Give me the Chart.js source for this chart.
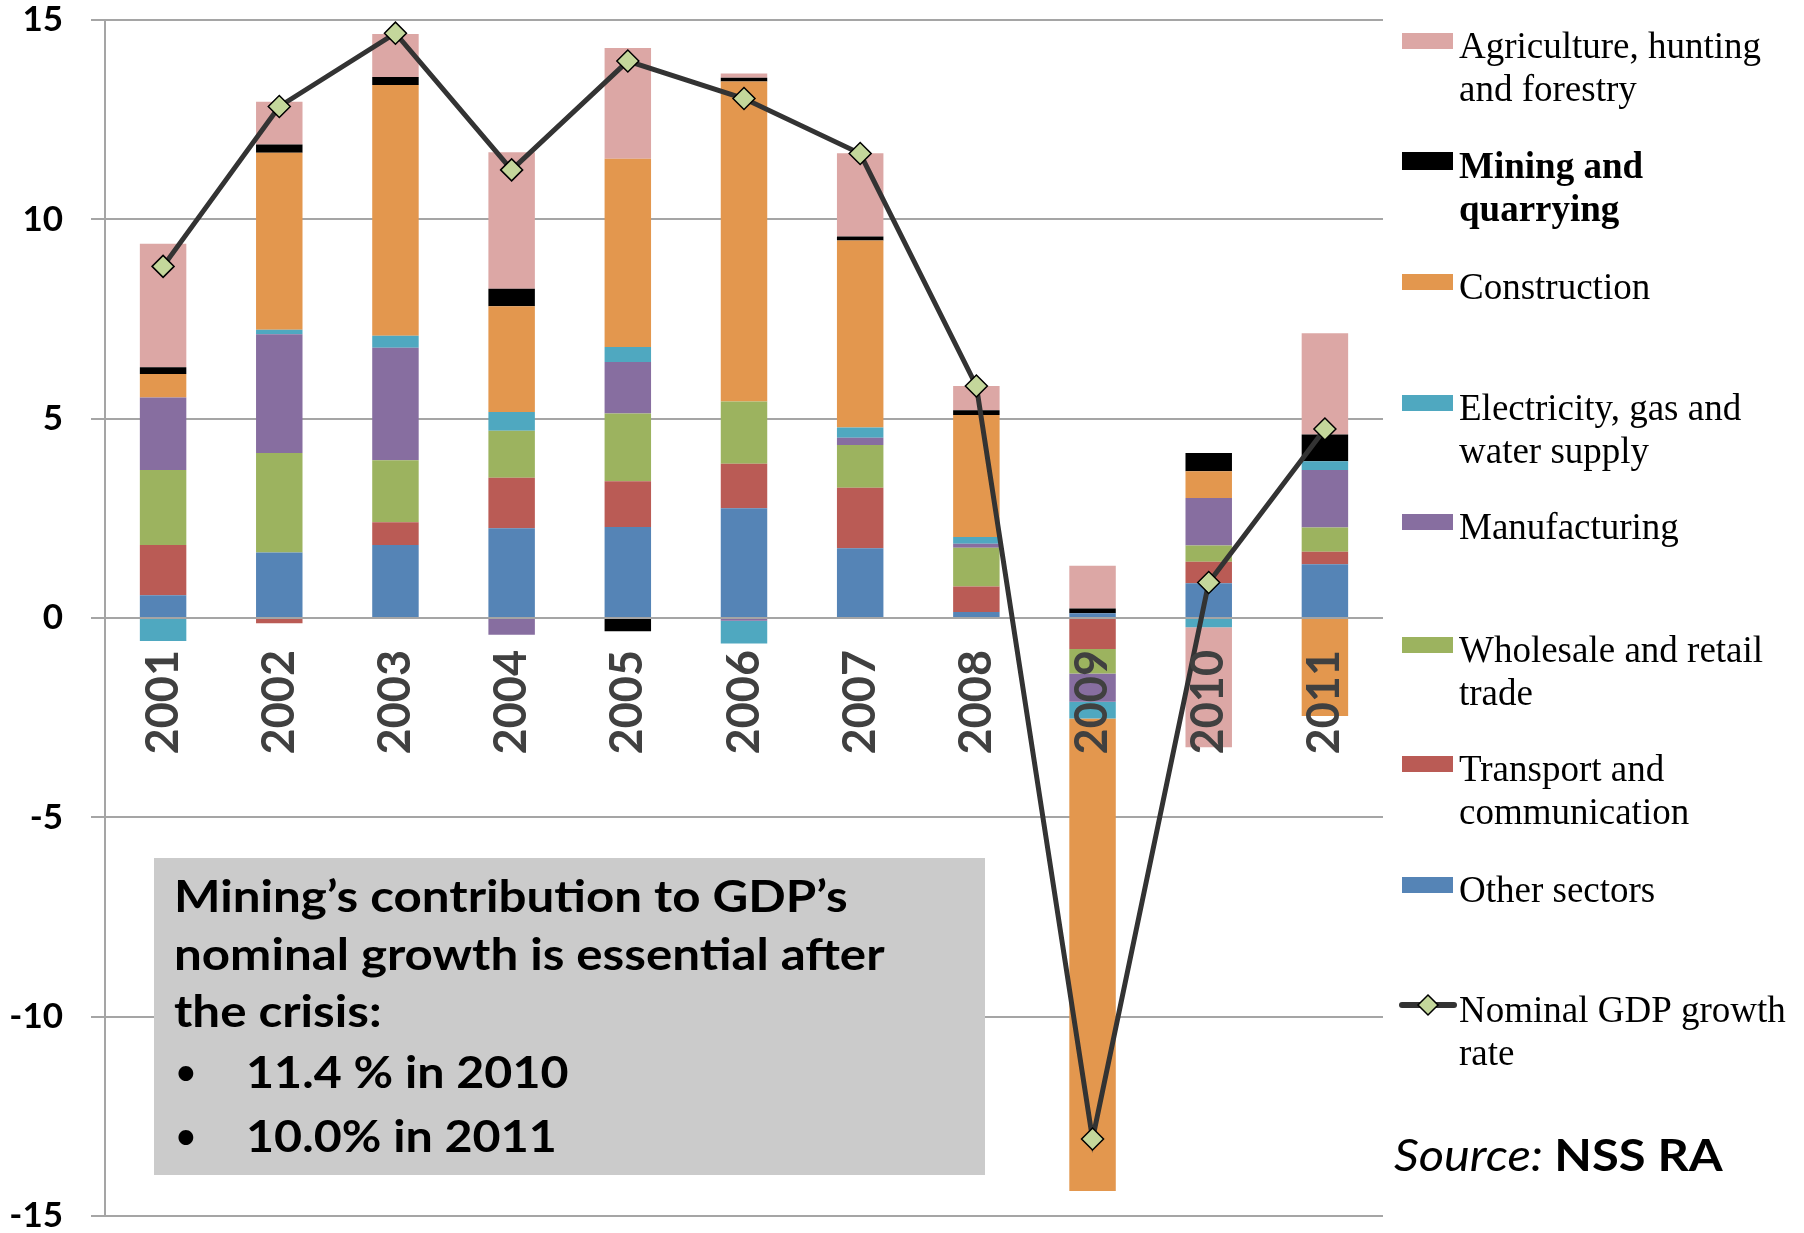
<!DOCTYPE html>
<html>
<head>
<meta charset="utf-8">
<title>GDP growth by sector</title>
<script src="https://cdn.jsdelivr.net/npm/chart.js@4.4.1/dist/chart.umd.min.js"></script>
<style>
  html, body { margin: 0; padding: 0; background: #fff; overflow: hidden; }
  #wrap { position: relative; width: 1804px; height: 1237px; }
</style>
</head>
<body>
<div id="wrap"><canvas id="gdpChart"></canvas></div>
<script>
// contributions to nominal GDP growth, percentage points
const years = ['2001', '2002', '2003', '2004', '2005', '2006', '2007', '2008', '2009', '2010', '2011'];

const otherSectors  = [0.57, 1.64, 1.83, 2.25, 2.28, 2.75, 1.75, 0.15, 0.12, 0.87, 1.35];
const transport     = [1.26, -0.13, 0.57, 1.27, 1.15, 1.12, 1.52, 0.64, -0.78, 0.54, 0.31];
const trade         = [1.88, 2.50, 1.56, 1.18, 1.70, 1.56, 1.07, 0.97, -0.61, 0.41, 0.61];
const manufacturing = [1.82, 2.98, 2.82, -0.42, 1.29, -0.07, 0.18, 0.10, -0.71, 1.19, 1.44];
const electricity   = [-0.58, 0.11, 0.30, 0.47, 0.38, -0.57, 0.26, 0.17, -0.42, -0.23, 0.22];
const construction  = [0.59, 4.44, 6.29, 2.65, 4.72, 8.03, 4.69, 3.06, -11.85, 0.67, -2.46];
const mining        = [0.17, 0.21, 0.20, 0.44, -0.33, 0.09, 0.10, 0.12, 0.12, 0.46, 0.67];
const agriculture   = [3.10, 1.07, 1.08, 3.42, 2.78, 0.11, 2.09, 0.61, 1.07, -3.01, 2.54];

const gdpGrowth     = [8.82, 12.83, 14.67, 11.24, 13.97, 13.03, 11.65, 5.82, -13.07, 0.89, 4.74];

const yTicks = [-15, -10, -5, 0, 5, 10, 15];

const noteLines = ['Mining\u2019s contribution to GDP\u2019s', 'nominal growth is essential after', 'the crisis:'];
const noteBullets = ['11.4 % in 2010', '10.0% in 2011'];

// stacked bottom-up in this order
const sectors = [
  { label: 'Other sectors', data: otherSectors, color: '#5584b6' },
  { label: 'Transport and\ncommunication', data: transport, color: '#ba5b55' },
  { label: 'Wholesale and retail\ntrade', data: trade, color: '#9cb35f' },
  { label: 'Manufacturing', data: manufacturing, color: '#876ea0' },
  { label: 'Electricity, gas and\nwater supply', data: electricity, color: '#4fa8c0' },
  { label: 'Construction', data: construction, color: '#e3974e' },
  { label: 'Mining and\nquarrying', data: mining, color: '#000000', bold: true },
  { label: 'Agriculture, hunting\nand forestry', data: agriculture, color: '#dca7a5' }
];

const datasets = sectors.map(s => ({
  type: 'bar',
  label: s.label,
  data: s.data,
  backgroundColor: s.color,
  borderWidth: 0,
  order: 1,
  bold: !!s.bold
}));

datasets.push({
  type: 'line',
  label: 'Nominal GDP growth\nrate',
  data: gdpGrowth,
  stack: 'gdp',
  order: 0,
  borderColor: '#333333',
  borderWidth: 5,
  pointStyle: 'rectRot',
  pointRadius: 11,
  pointBackgroundColor: '#c4d79b',
  pointBorderColor: '#000000',
  pointBorderWidth: 1.5,
  tension: 0
});

// text drawn slightly widened, like the condensed original face
function wideText(ctx, text, x, y, sx) {
  ctx.save();
  ctx.translate(x, y);
  ctx.scale(sx, 1);
  ctx.fillText(text, 0, 0);
  const w = ctx.measureText(text).width * sx;
  ctx.restore();
  return w;
}

// legend, text box and source note
const sideNotes = {
  id: 'sideNotes',
  afterDraw(chart) {
    const ctx = chart.ctx;
    ctx.save();

    ctx.fillStyle = '#cbcbcb';
    ctx.fillRect(154, 858, 831, 317);
    ctx.fillStyle = '#000';
    ctx.textBaseline = 'alphabetic';
    ctx.textAlign = 'left';
    ctx.font = 'bold 44px Lato';
    const base = [912, 970, 1027];
    noteLines.forEach((t, i) => wideText(ctx, t, 174, base[i], 1.12));
    const bBase = [1088, 1152];
    noteBullets.forEach((t, i) => {
      ctx.font = 'bold 34px Lato';
      ctx.fillText('\u2022', 176, bBase[i] - 4);
      ctx.font = 'bold 44px Lato';
      wideText(ctx, t, 246, bBase[i], 1.1);
    });

    // legend: bar series top-down, then the line
    const bars = chart.data.datasets.filter(d => d.type === 'bar').slice().reverse();
    const centers = [41, 161, 282, 403, 522, 645, 764, 885];
    bars.forEach((d, i) => {
      const cy = centers[i];
      ctx.fillStyle = d.backgroundColor;
      const h = d.bold ? 18 : 16;
      ctx.fillRect(1402, cy - h / 2, 51, h);
      ctx.fillStyle = '#000';
      ctx.font = (d.bold ? 'bold ' : '') + '37px "Liberation Serif"';
      d.label.split('\n').forEach((ln, k) => ctx.fillText(ln, 1459, cy + 17 + k * 43));
    });
    const line = chart.data.datasets.find(d => d.type === 'line');
    const ly = 1005;
    ctx.strokeStyle = line.borderColor;
    ctx.lineWidth = 6;
    ctx.lineCap = 'round';
    ctx.beginPath();
    ctx.moveTo(1402, ly);
    ctx.lineTo(1454, ly);
    ctx.stroke();
    ctx.beginPath();
    ctx.moveTo(1428, ly - 10);
    ctx.lineTo(1438, ly);
    ctx.lineTo(1428, ly + 10);
    ctx.lineTo(1418, ly);
    ctx.closePath();
    ctx.fillStyle = line.pointBackgroundColor;
    ctx.fill();
    ctx.lineWidth = 1.5;
    ctx.strokeStyle = '#000';
    ctx.stroke();
    ctx.fillStyle = '#000';
    ctx.font = '37px "Liberation Serif"';
    line.label.split('\n').forEach((ln, k) => ctx.fillText(ln, 1459, ly + 17 + k * 43));

    // source
    ctx.font = 'italic 44px Lato';
    const w = wideText(ctx, 'Source: ', 1394, 1171, 1.11);
    ctx.font = 'bold 44px Lato';
    wideText(ctx, 'NSS RA', 1394 + w, 1171, 1.11);

    ctx.restore();
  }
};

new Chart(document.getElementById('gdpChart'), {
  data: { labels: years, datasets: datasets },
  plugins: [sideNotes],
  options: {
    responsive: true,
    maintainAspectRatio: false,
    animation: false,
    layout: { padding: { left: 0, right: 421, top: 0, bottom: 0 } },
    datasets: {
      bar: { categoryPercentage: 1.0, barPercentage: 0.4 }
    },
    plugins: {
      legend: { display: false },
      tooltip: { enabled: false }
    },
    scales: {
      x: {
        stacked: true,
        offset: true,
        position: { y: 0 },
        grid: { display: false, drawTicks: false },
        border: { display: false },
        ticks: {
          z: 1,
          autoSkip: false,
          minRotation: 90,
          maxRotation: 90,
          padding: 32,
          color: '#404040',
          font: { family: 'Lato', weight: 'bold', size: 45 }
        },
        afterFit(scale) { scale.height = 0; }
      },
      y: {
        stacked: true,
        min: -15,
        max: 15,
        afterBuildTicks(scale) { scale.ticks = yTicks.map(v => ({ value: v })); },
        grid: { color: '#a5a5a5', lineWidth: 2, tickLength: 14 },
        border: { color: '#a5a5a5', width: 2 },
        ticks: {
          padding: 28,
          color: '#000',
          font: { family: 'Lato', weight: 'bold', size: 35 }
        },
        afterFit(scale) {
          scale.width = 105;
          scale.paddingTop = 20;
          scale.paddingBottom = 21;
        }
      }
    }
  }
});
</script>
</body>
</html>
